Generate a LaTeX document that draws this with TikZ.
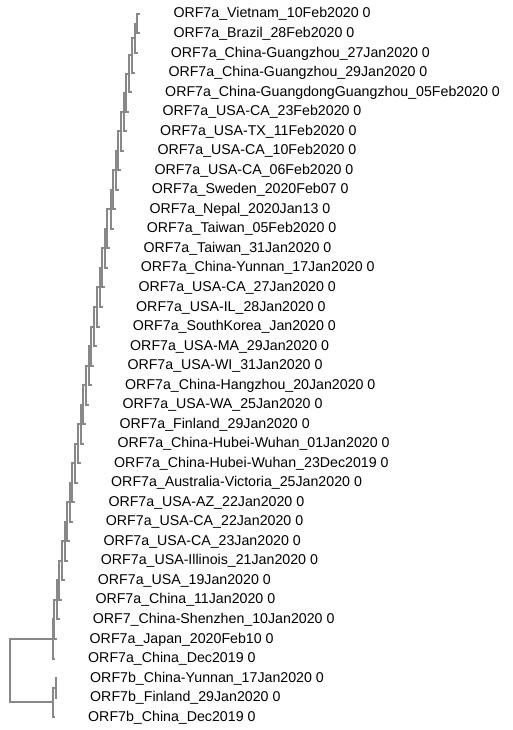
\documentclass[tikz,border=0pt]{standalone}
\usepackage{fontspec}
\setmainfont{Liberation Sans}
\definecolor{treegray}{HTML}{888888}

\begin{document}
\begin{tikzpicture}[
    x=1pt, y=-1pt,
    leaf/.style={anchor=west, inner sep=0pt, text height=8pt, text depth=0pt, font=\fontsize{14.2}{16}\selectfont},
    edge/.style={draw=treegray, line width=2pt},
    twig/.style={edge, shorten >=33pt}
]
\useasboundingbox (0,0) rectangle (513,730);

% leaves
\node[leaf] (l1) at (173.3,14.0) {ORF7a\_Vietnam\_10Feb2020 0};
\node[leaf] (l2) at (173.3,33.5) {ORF7a\_Brazil\_28Feb2020 0};
\node[leaf] (l3) at (170.7,53.1) {ORF7a\_China-Guangzhou\_27Jan2020 0};
\node[leaf] (l4) at (168.3,72.6) {ORF7a\_China-Guangzhou\_29Jan2020 0};
\node[leaf] (l5) at (165.0,92.1) {ORF7a\_China-GuangdongGuangzhou\_05Feb2020 0};
\node[leaf] (l6) at (162.3,111.7) {ORF7a\_USA-CA\_23Feb2020 0};
\node[leaf] (l7) at (160.0,131.2) {ORF7a\_USA-TX\_11Feb2020 0};
\node[leaf] (l8) at (157.3,150.7) {ORF7a\_USA-CA\_10Feb2020 0};
\node[leaf] (l9) at (154.3,170.2) {ORF7a\_USA-CA\_06Feb2020 0};
\node[leaf] (l10) at (151.7,189.8) {ORF7a\_Sweden\_2020Feb07 0};
\node[leaf] (l11) at (149.3,209.3) {ORF7a\_Nepal\_2020Jan13 0};
\node[leaf] (l12) at (146.7,228.8) {ORF7a\_Taiwan\_05Feb2020 0};
\node[leaf] (l13) at (143.3,248.4) {ORF7a\_Taiwan\_31Jan2020 0};
\node[leaf] (l14) at (140.7,267.9) {ORF7a\_China-Yunnan\_17Jan2020 0};
\node[leaf] (l15) at (138.3,287.4) {ORF7a\_USA-CA\_27Jan2020 0};
\node[leaf] (l16) at (136.0,307.0) {ORF7a\_USA-IL\_28Jan2020 0};
\node[leaf] (l17) at (132.7,326.5) {ORF7a\_SouthKorea\_Jan2020 0};
\node[leaf] (l18) at (130.0,346.0) {ORF7a\_USA-MA\_29Jan2020 0};
\node[leaf] (l19) at (127.3,365.5) {ORF7a\_USA-WI\_31Jan2020 0};
\node[leaf] (l20) at (125.0,385.1) {ORF7a\_China-Hangzhou\_20Jan2020 0};
\node[leaf] (l21) at (122.3,404.6) {ORF7a\_USA-WA\_25Jan2020 0};
\node[leaf] (l22) at (119.3,424.1) {ORF7a\_Finland\_29Jan2020 0};
\node[leaf] (l23) at (117.3,443.7) {ORF7a\_China-Hubei-Wuhan\_01Jan2020 0};
\node[leaf] (l24) at (114.0,463.2) {ORF7a\_China-Hubei-Wuhan\_23Dec2019 0};
\node[leaf] (l25) at (111.0,482.7) {ORF7a\_Australia-Victoria\_25Jan2020 0};
\node[leaf] (l26) at (108.3,502.3) {ORF7a\_USA-AZ\_22Jan2020 0};
\node[leaf] (l27) at (105.7,521.8) {ORF7a\_USA-CA\_22Jan2020 0};
\node[leaf] (l28) at (103.3,541.3) {ORF7a\_USA-CA\_23Jan2020 0};
\node[leaf] (l29) at (100.7,560.8) {ORF7a\_USA-Illinois\_21Jan2020 0};
\node[leaf] (l30) at (97.7,580.4) {ORF7a\_USA\_19Jan2020 0};
\node[leaf] (l31) at (95.3,599.9) {ORF7a\_China\_11Jan2020 0};
\node[leaf] (l32) at (92.7,619.4) {ORF7\_China-Shenzhen\_10Jan2020 0};
\node[leaf] (l33) at (89.5,639.0) {ORF7a\_Japan\_2020Feb10 0};
\node[leaf] (l34) at (88.0,658.5) {ORF7a\_China\_Dec2019 0};
\node[leaf] (l35) at (90.0,678.0) {ORF7b\_China-Yunnan\_17Jan2020 0};
\node[leaf] (l36) at (90.0,697.6) {ORF7b\_Finland\_29Jan2020 0};
\node[leaf] (l37) at (88.0,717.1) {ORF7b\_China\_Dec2019 0};

% inner nodes of the ORF7a ladder
\foreach \k/\nx/\ny in {2/137.3/23.8, 3/134.7/38.4, 4/132.3/55.5, 5/129.0/73.8,
    6/126.3/92.7, 7/124.0/112.0, 8/121.3/131.3, 9/118.3/150.8, 10/115.7/170.3,
    11/113.3/189.8, 12/110.7/209.3, 13/107.3/228.8, 14/104.7/248.4, 15/102.3/267.9,
    16/100.0/287.4, 17/96.7/307.0, 18/94.0/326.5, 19/91.3/346.0, 20/89.0/365.5,
    21/86.3/385.1, 22/83.3/404.6, 23/81.3/424.1, 24/78.0/443.7, 25/75.0/463.2,
    26/72.3/482.7, 27/69.7/502.3, 28/67.3/521.8, 29/64.7/541.3, 30/61.7/560.8,
    31/59.3/580.4, 32/56.7/599.9, 33/53.5/619.4, 34/52.5/639.0}
    \coordinate (n\k) at (\nx,\ny);
\coordinate (m2) at (55.5,687.8);
\coordinate (m1) at (52.5,702.4);
\coordinate (root) at (10,670.7);

% branches
\draw[twig] (n2) |- (l1);
\foreach \k in {2,...,34} \draw[twig] (n\k) |- (l\k);
\foreach \k [evaluate=\k as \j using int(\k-1)] in {3,...,34} \draw[edge] (n\k) |- (n\j);
\draw[twig] (m2) |- (l35);
\draw[twig] (m2) |- (l36);
\draw[edge] (m1) |- (m2);
\draw[twig] (m1) |- (l37);
\draw[edge] (root) |- (n34);
\draw[edge] (root) |- (m1);
\end{tikzpicture}
\end{document}
